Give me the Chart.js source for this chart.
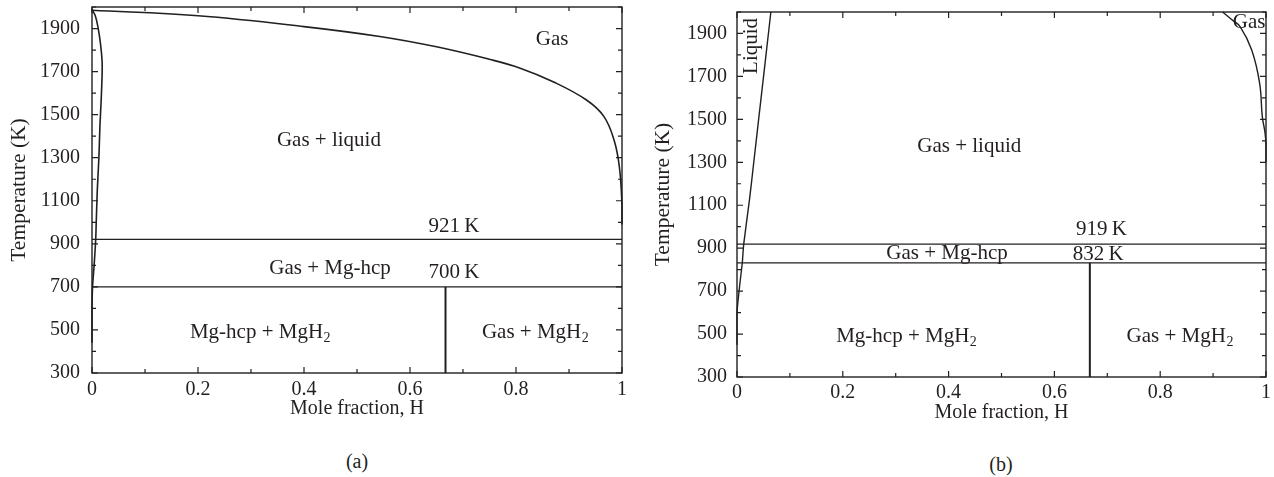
<!DOCTYPE html>
<html>
<head>
<meta charset="utf-8">
<script src="https://cdn.jsdelivr.net/npm/chart.js@4.4.1/dist/chart.umd.min.js"></script>
<style>
  body { margin: 0; background: #fff; width: 1274px; height: 477px; position: relative; overflow: hidden; font-family: "Liberation Serif", serif; color: #231f20; }
  .panel { position: absolute; top: 0; width: 637px; height: 440px; }
  .caption { position: absolute; font-size: 20px; transform: translateX(-50%); }
</style>
</head>
<body>
<div class="panel" style="left:0"><canvas id="chart-a"></canvas></div>
<div class="panel" style="left:637px"><canvas id="chart-b"></canvas></div>
<div class="caption" style="left:357px; top:450px">(a)</div>
<div class="caption" style="left:1001px; top:453px">(b)</div>
<script>
const ink = '#231f20';
const fontFamily = '"Liberation Serif", "Times New Roman", serif';
const fontSize = 20;
const labelSize = 21;

const xTicks = [0, 0.2, 0.4, 0.6, 0.8, 1];
const xTickLabels = ['0', '0.2', '0.4', '0.6', '0.8', '1'];
const yTicks = [300, 500, 700, 900, 1100, 1300, 1500, 1700, 1900];

// (a) phase boundaries
const liquidA_x = [0, 0.006, 0.011, 0.016, 0.019, 0.019, 0.017, 0.015, 0.013, 0.010, 0.008, 0.007, 0.004, 0.001, 0, 0];
const liquidA_T = [1988, 1960, 1910, 1830, 1750, 1680, 1550, 1450, 1300, 1150, 1000, 921, 800, 700, 600, 440];
const gasA_x = [0, 0.2, 0.4, 0.543, 0.65, 0.75, 0.808, 0.87, 0.933, 0.966, 0.985, 0.995, 1, 1];
const gasA_T = [1985, 1959, 1909, 1863, 1815, 1757, 1716, 1653, 1568, 1491, 1382, 1258, 1080, 990];
const eutecticA = 921;
const hydrideA = 700;
const mgh2X = 0.667;

// (b) phase boundaries
const liquidB_x = [0, 0, 0.005, 0.010, 0.0127, 0.0238, 0.0317, 0.0409, 0.0502, 0.0594, 0.064];
const liquidB_T = [450, 600, 725, 832, 919, 1130, 1300, 1500, 1700, 1900, 2000];
const gasB_x = [0.918, 0.935, 0.951, 0.973, 0.988, 0.993, 0.998, 1, 1];
const gasB_T = [2000, 1965, 1932, 1823, 1668, 1513, 1440, 1380, 1300];
const eutecticB = 919;
const hydrideB = 832;

// region names, anchored in (mole fraction, K)
const labelsA_text = ['Gas', 'Gas + liquid', '921\u2009K', 'Gas + Mg-hcp', '700\u2009K', 'Mg-hcp + MgH₂', 'Gas + MgH₂'];
const labelsA_x = [0.868, 0.447, 0.683, 0.449, 0.683, 0.317, 0.836];
const labelsA_T = [1848, 1382, 980, 785, 768, 489, 489];
const labelsB_text = ['Liquid', 'Gas', 'Gas + liquid', '919\u2009K', 'Gas + Mg-hcp', '832\u2009K', 'Mg-hcp + MgH₂', 'Gas + MgH₂'];
const labelsB_x = [0.028, 0.968, 0.439, 0.689, 0.397, 0.683, 0.32, 0.837];
const labelsB_T = [1842, 1950, 1373, 986, 875, 870, 488, 488];
const labelsB_rot = [-90, 0, 0, 0, 0, 0, 0, 0];

function pts(xs, ys) {
    return xs.map((x, i) => ({ x: x, y: ys[i] }));
}

function curve(data, width, tension) {
    return {
        data: data,
        showLine: true,
        borderColor: ink,
        borderWidth: width,
        borderJoinStyle: 'round',
        pointRadius: 0,
        tension: tension,
        clip: 3
    };
}

// frame with inward ticks on all four sides
const frameTicks = {
    id: 'frameTicks',
    afterDatasetsDraw(chart) {
        const { ctx, chartArea: a, scales: { x, y } } = chart;
        ctx.save();
        ctx.strokeStyle = ink;
        ctx.lineWidth = 1.4;
        ctx.strokeRect(a.left, a.top, a.right - a.left, a.bottom - a.top);
        ctx.lineWidth = 1.2;
        ctx.beginPath();
        for (let i = 0; i <= 10; i++) {
            const px = x.getPixelForValue(i / 10);
            const len = i % 2 === 0 ? 6 : 4;
            ctx.moveTo(px, a.bottom); ctx.lineTo(px, a.bottom - len);
            ctx.moveTo(px, a.top); ctx.lineTo(px, a.top + len);
        }
        for (let v = 300; v <= 2000; v += 100) {
            const py = y.getPixelForValue(v);
            const len = (v - 300) % 200 === 0 ? 6 : 4;
            ctx.moveTo(a.left, py); ctx.lineTo(a.left + len, py);
            ctx.moveTo(a.right, py); ctx.lineTo(a.right - len, py);
        }
        ctx.stroke();
        ctx.restore();
    }
};

// text labels with a lowered "2" for MgH2
const regionLabels = {
    id: 'regionLabels',
    afterDatasetsDraw(chart, args, opts) {
        const { ctx, scales: { x, y } } = chart;
        const sub = Math.round(labelSize * 0.68);
        ctx.save();
        ctx.fillStyle = ink;
        ctx.textBaseline = 'middle';
        opts.text.forEach((t, i) => {
            const px = x.getPixelForValue(opts.x[i]);
            const py = y.getPixelForValue(opts.y[i]);
            const parts = t.split('₂');
            ctx.save();
            ctx.translate(px, py);
            ctx.rotate(((opts.rot && opts.rot[i]) || 0) * Math.PI / 180);
            ctx.font = labelSize + 'px ' + fontFamily;
            const w0 = ctx.measureText(parts[0]).width;
            let w1 = 0;
            if (parts.length > 1) {
                ctx.font = sub + 'px ' + fontFamily;
                w1 = ctx.measureText('2').width;
            }
            const start = -(w0 + w1) / 2;
            ctx.font = labelSize + 'px ' + fontFamily;
            ctx.textAlign = 'left';
            ctx.fillText(parts[0], start, 0);
            if (parts.length > 1) {
                ctx.font = sub + 'px ' + fontFamily;
                ctx.fillText('2', start + w0 + 0.5, 6);
            }
            ctx.restore();
        });
        ctx.restore();
    }
};

function makeChart(id, datasets, labels, box) {
    const font = { family: fontFamily, size: fontSize };
    return new Chart(document.getElementById(id), {
        type: 'scatter',
        data: { datasets: datasets },
        options: {
            responsive: true,
            maintainAspectRatio: false,
            animation: false,
            layout: { padding: { left: 0, top: box.top, right: box.right, bottom: box.bottom } },
            plugins: {
                legend: { display: false },
                tooltip: { enabled: false },
                regionLabels: labels
            },
            scales: {
                x: {
                    type: 'linear',
                    min: 0,
                    max: 1,
                    afterBuildTicks: s => { s.ticks = xTicks.map(v => ({ value: v })); },
                    afterFit: s => { s.height = 50; s.paddingLeft = 0; s.paddingRight = 0; },
                    ticks: {
                        callback: v => xTickLabels[xTicks.indexOf(v)],
                        padding: box.xPad,
                        color: ink,
                        font: font,
                        maxRotation: 0,
                        autoSkip: false
                    },
                    grid: { display: false, drawTicks: false },
                    border: { display: false },
                    title: { display: true, text: 'Mole fraction, H', color: ink, font: font, padding: { top: 0, bottom: 2 } }
                },
                y: {
                    type: 'linear',
                    min: 300,
                    max: 2000,
                    afterBuildTicks: s => { s.ticks = yTicks.map(v => ({ value: v })); },
                    afterFit: s => { s.width = box.axisWidth; s.paddingTop = 0; s.paddingBottom = 0; },
                    ticks: { callback: v => String(v), padding: box.tickPad, color: ink, font: font },
                    grid: { display: false, drawTicks: false },
                    border: { display: false },
                    title: {
                        display: true,
                        text: 'Temperature (K)',
                        color: ink,
                        font: { family: fontFamily, size: 21.5 },
                        padding: { top: box.titlePad, bottom: 0 }
                    }
                }
            }
        },
        plugins: [frameTicks, regionLabels]
    });
}

makeChart('chart-a', [
    curve(pts(liquidA_x, liquidA_T), 1.6, 0.3),
    curve(pts(gasA_x, gasA_T), 1.6, 0.4),
    curve(pts([0, 1], [eutecticA, eutecticA]), 1.3, 0),
    curve(pts([0, 1], [hydrideA, hydrideA]), 1.3, 0),
    curve(pts([mgh2X, mgh2X], [300, hydrideA]), 2, 0)
], { text: labelsA_text, x: labelsA_x, y: labelsA_T },
   { top: 7, right: 15, bottom: 17, axisWidth: 92, tickPad: 12, titlePad: 6.5, xPad: 5 });

makeChart('chart-b', [
    curve(pts(liquidB_x, liquidB_T), 1.4, 0.2),
    curve(pts(gasB_x, gasB_T), 1.4, 0.4),
    curve(pts([0, 1], [eutecticB, eutecticB]), 1.3, 0),
    curve(pts([0, 1], [hydrideB, hydrideB]), 1.3, 0),
    curve(pts([mgh2X, mgh2X], [300, hydrideB]), 2, 0)
], { text: labelsB_text, x: labelsB_x, y: labelsB_T, rot: labelsB_rot },
   { top: 12, right: 8, bottom: 13, axisWidth: 100, tickPad: 10, titlePad: 13.5, xPad: 4 });
</script>
</body>
</html>
